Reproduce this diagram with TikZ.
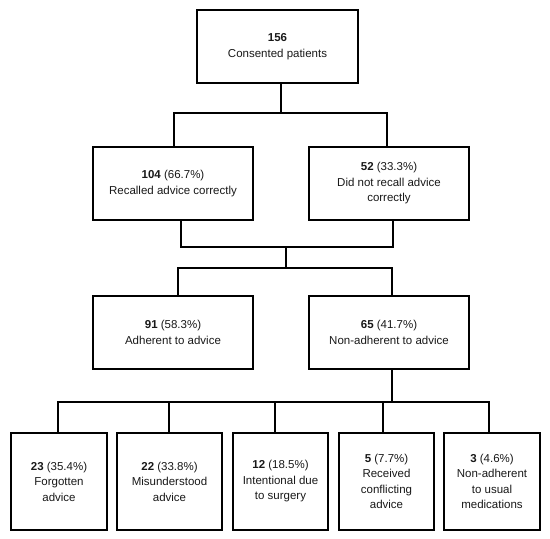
\documentclass[tikz,border=0pt]{standalone}
\usepackage{fontspec}
\setmainfont{Liberation Sans}
\begin{document}
\begin{tikzpicture}[x=1pt,y=-1pt,
  box/.style={draw=black, line width=2.8pt, fill=white, align=center, inner sep=2pt,
    font=\fontsize{11.5pt}{15.5pt}\selectfont, text=black!90},
  conn/.style={draw=black, line width=2.8pt}]
\useasboundingbox (0,0) rectangle (550,539);
% boxes
\node[box, minimum width=161pt, minimum height=73pt] (top) at (277.5,46.5) {\textbf{156}\\Consented patients};
\node[box, minimum width=160pt, minimum height=73pt] (b104) at (173,183.5) {\textbf{104} (66.7\%)\\Recalled advice correctly};
\node[box, minimum width=160pt, minimum height=73pt] (b52) at (389,183.5) {\textbf{52} (33.3\%)\\Did not recall advice\\correctly};
\node[box, minimum width=160pt, minimum height=73pt] (b91) at (173,332.5) {\textbf{91} (58.3\%)\\Adherent to advice};
\node[box, minimum width=160pt, minimum height=73pt] (b65) at (389,332.5) {\textbf{65} (41.7\%)\\Non-adherent to advice};
\node[box, minimum width=96pt, minimum height=97pt] (c1) at (59,481.5) {\textbf{23} (35.4\%)\\Forgotten\\advice};
\node[box, minimum width=105pt, minimum height=97pt] (c2) at (169.5,481.5) {\textbf{22} (33.8\%)\\Misunderstood\\advice};
\node[box, minimum width=95pt, minimum height=97pt] (c3) at (280.5,481.5) {\textbf{12} (18.5\%)\\Intentional due\\to surgery};
\node[box, minimum width=95pt, minimum height=97pt] (c4) at (386.5,481.5) {\textbf{5} (7.7\%)\\Received\\conflicting\\advice};
\node[box, minimum width=96pt, minimum height=97pt] (c5) at (492,481.5) {\textbf{3} (4.6\%)\\Non-adherent\\to usual\\medications};
% junctions
\coordinate (j1) at (281,113);
\coordinate (j2) at (286,247);
\coordinate (j3) at (286,268);
\coordinate (j4) at (392,402);
% connectors
\draw[conn] ([xshift=3.5pt]top.south) -- (j1);
\draw[conn] ([xshift=1pt]b104.north) |- (j1) -| ([xshift=-2pt]b52.north);
\draw[conn] ([xshift=8pt]b104.south) |- (j2) -| ([xshift=4pt]b52.south);
\draw[conn] (j2) -- (j3);
\draw[conn] ([xshift=5pt]b91.north) |- (j3) -| ([xshift=3pt]b65.north);
\draw[conn] ([xshift=3pt]b65.south) -- (j4);
\draw[conn] ([xshift=-1pt]c1.north) |- (j4) -| ([xshift=-3pt]c5.north);
\draw[conn] ([xshift=-0.5pt]c2.north) -- ([xshift=-0.5pt]c2.north |- j4);
\draw[conn] ([xshift=-5.5pt]c3.north) -- ([xshift=-5.5pt]c3.north |- j4);
\draw[conn] ([xshift=-3.5pt]c4.north) -- ([xshift=-3.5pt]c4.north |- j4);
\end{tikzpicture}
\end{document}
